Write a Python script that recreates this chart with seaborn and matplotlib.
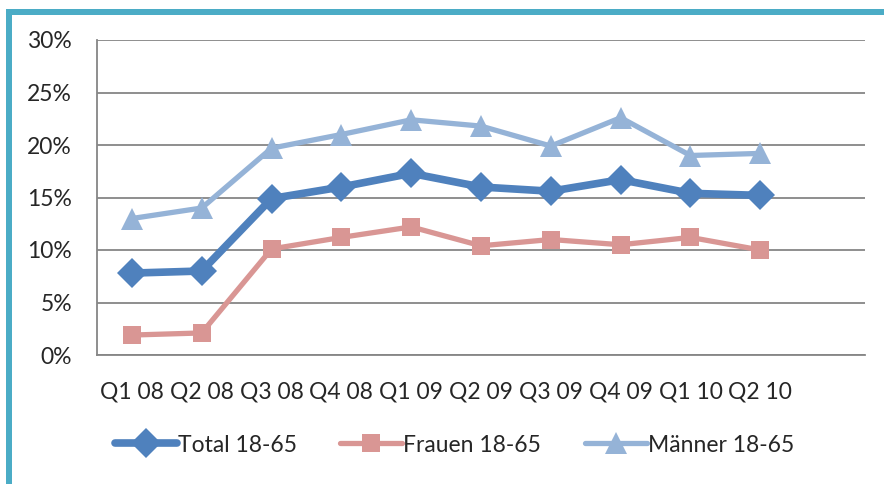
import numpy as np
import pandas as pd
import seaborn as sns
import matplotlib.pyplot as plt
from matplotlib.patches import Rectangle
from matplotlib.ticker import FixedLocator, PercentFormatter

# data (percent)
quarters = ['Q1 08', 'Q2 08', 'Q3 08', 'Q4 08', 'Q1 09',
            'Q2 09', 'Q3 09', 'Q4 09', 'Q1 10', 'Q2 10']
total = [7.8, 8.0, 14.9, 16.0, 17.3, 16.0, 15.6, 16.7, 15.4, 15.2]
frauen = [1.9, 2.1, 10.1, 11.2, 12.2, 10.4, 11.0, 10.5, 11.2, 10.0]
maenner = [13.0, 14.0, 19.7, 21.0, 22.4, 21.8, 19.9, 22.6, 19.0, 19.2]

sns.set_style('white')
plt.rcParams['font.family'] = ['Lato', 'DejaVu Sans']

fig = plt.figure(figsize=(8.84, 4.84), dpi=100)
ax = fig.add_axes([97 / 884, 1 - 355 / 484, (865 - 97) / 884, (355 - 40) / 484])

x = np.arange(len(quarters))
sns.lineplot(x=x, y=total, ax=ax, color='#4F81BD', linewidth=5.5,
             marker='D', markersize=15, markeredgewidth=0, label='Total 18-65')
sns.lineplot(x=x, y=frauen, ax=ax, color='#D99694', linewidth=3.8,
             marker='s', markersize=12.5, markeredgewidth=0, label='Frauen 18-65')
sns.lineplot(x=x, y=maenner, ax=ax, color='#95B3D7', linewidth=3.8,
             marker='^', markersize=16, markeredgewidth=0, label='Männer 18-65')

# axes look (Excel style)
ax.set_xlim(-0.5, 10.5)
ax.set_ylim(0, 30)
ax.set_yticks(np.arange(0, 31, 5))
ax.yaxis.set_major_formatter(PercentFormatter(decimals=0))
ax.set_xticks(x)
ax.set_xticklabels(quarters)
ax.xaxis.set_minor_locator(FixedLocator(np.arange(-0.5, 11, 1)))
ax.tick_params(axis='x', which='major', length=0, pad=19, labelsize=16.5)
ax.tick_params(axis='x', which='minor', length=6, width=1.3, color='#868686', direction='out')
ax.tick_params(axis='y', length=8, width=1.3, color='#868686', labelsize=16.5, pad=10)
ax.grid(axis='y', color='#868686', linewidth=1.3)
ax.grid(axis='x', visible=False)
for side in ['top', 'right']:
    ax.spines[side].set_visible(False)
for side in ['left', 'bottom']:
    ax.spines[side].set_color('#868686')
    ax.spines[side].set_linewidth(1.3)
ax.set_axisbelow(True)
ax.set_xlabel('')
ax.set_ylabel('')

ax.legend_.remove()
h, l = ax.get_legend_handles_labels()
fig.legend(h, l, loc='center', bbox_to_anchor=(0.514, 1 - 445 / 484), ncol=3,
           frameon=False, fontsize=16.5, handlelength=2.7, handletextpad=0.05,
           columnspacing=1.9)

# teal frame (left and top)
fig.add_artist(Rectangle((6 / 884, 0), 6 / 884, 1 - 9 / 484,
                         transform=fig.transFigure, color='#4BACC6', lw=0))
fig.add_artist(Rectangle((6 / 884, 1 - 15 / 484), 1, 6 / 484,
                         transform=fig.transFigure, color='#4BACC6', lw=0))

fig.savefig('out.png', dpi=100)
